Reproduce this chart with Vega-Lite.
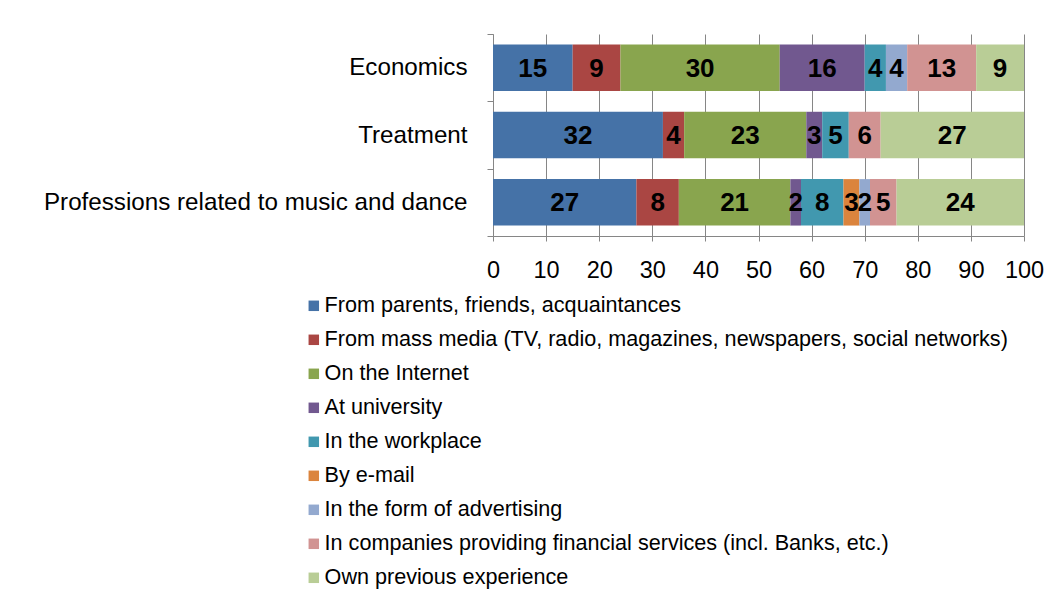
{
  "$schema": "https://vega.github.io/schema/vega-lite/v6.json",
  "width": 531,
  "height": 202,
  "autosize": {"type": "none"},
  "padding": {"left": 493, "top": 34, "right": 23, "bottom": 376},
  "background": "white",
  "config": {"font": "Liberation Sans", "view": {"stroke": null}},
  "data": {
    "values": [
      {"group": "Economics", "source": "From parents, friends, acquaintances", "rank": 1, "value": 15},
      {"group": "Economics", "source": "From mass media (TV, radio, magazines, newspapers, social networks)", "rank": 2, "value": 9},
      {"group": "Economics", "source": "On the Internet", "rank": 3, "value": 30},
      {"group": "Economics", "source": "At university", "rank": 4, "value": 16},
      {"group": "Economics", "source": "In the workplace", "rank": 5, "value": 4},
      {"group": "Economics", "source": "In the form of advertising", "rank": 7, "value": 4},
      {"group": "Economics", "source": "In companies providing financial services (incl. Banks, etc.)", "rank": 8, "value": 13},
      {"group": "Economics", "source": "Own previous experience", "rank": 9, "value": 9},
      {"group": "Treatment", "source": "From parents, friends, acquaintances", "rank": 1, "value": 32},
      {"group": "Treatment", "source": "From mass media (TV, radio, magazines, newspapers, social networks)", "rank": 2, "value": 4},
      {"group": "Treatment", "source": "On the Internet", "rank": 3, "value": 23},
      {"group": "Treatment", "source": "At university", "rank": 4, "value": 3},
      {"group": "Treatment", "source": "In the workplace", "rank": 5, "value": 5},
      {"group": "Treatment", "source": "In companies providing financial services (incl. Banks, etc.)", "rank": 8, "value": 6},
      {"group": "Treatment", "source": "Own previous experience", "rank": 9, "value": 27},
      {"group": "Professions related to music and dance", "source": "From parents, friends, acquaintances", "rank": 1, "value": 27},
      {"group": "Professions related to music and dance", "source": "From mass media (TV, radio, magazines, newspapers, social networks)", "rank": 2, "value": 8},
      {"group": "Professions related to music and dance", "source": "On the Internet", "rank": 3, "value": 21},
      {"group": "Professions related to music and dance", "source": "At university", "rank": 4, "value": 2},
      {"group": "Professions related to music and dance", "source": "In the workplace", "rank": 5, "value": 8},
      {"group": "Professions related to music and dance", "source": "By e-mail", "rank": 6, "value": 3},
      {"group": "Professions related to music and dance", "source": "In the form of advertising", "rank": 7, "value": 2},
      {"group": "Professions related to music and dance", "source": "In companies providing financial services (incl. Banks, etc.)", "rank": 8, "value": 5},
      {"group": "Professions related to music and dance", "source": "Own previous experience", "rank": 9, "value": 24}
    ]
  },
  "transform": [
    {"stack": "value", "groupby": ["group"], "sort": [{"field": "rank", "order": "ascending"}], "as": ["x0", "x1"]},
    {"calculate": "(datum.x0 + datum.x1) / 2", "as": "xm"}
  ],
  "encoding": {
    "y": {
      "field": "group",
      "type": "nominal",
      "sort": ["Economics", "Treatment", "Professions related to music and dance"],
      "scale": {"paddingInner": 0, "paddingOuter": 0},
      "axis": {
        "title": null,
        "tickBand": "extent",
        "domainColor": "#868686",
        "tickColor": "#868686",
        "tickSize": 6,
        "labelFontSize": 24.2,
        "labelColor": "#000000",
        "labelPadding": 20,
        "labelLimit": 600,
        "grid": false
      }
    }
  },
  "layer": [
    {
      "mark": {"type": "bar", "height": {"band": 0.69}},
      "encoding": {
        "x": {
          "field": "x0",
          "type": "quantitative",
          "scale": {"domain": [0, 100], "nice": false},
          "axis": {
            "title": null,
            "values": [0, 10, 20, 30, 40, 50, 60, 70, 80, 90, 100],
            "grid": true,
            "gridColor": "#868686",
            "domainColor": "#868686",
            "tickColor": "#868686",
            "tickSize": 5,
            "labelFontSize": 23.5,
            "labelColor": "#000000",
            "labelPadding": 17,
            "labelFlush": false
          }
        },
        "x2": {"field": "x1"},
        "color": {
          "field": "source",
          "type": "nominal",
          "scale": {
            "domain": [
              "From parents, friends, acquaintances",
              "From mass media (TV, radio, magazines, newspapers, social networks)",
              "On the Internet",
              "At university",
              "In the workplace",
              "By e-mail",
              "In the form of advertising",
              "In companies providing financial services (incl. Banks, etc.)",
              "Own previous experience"
            ],
            "range": ["#4572A7", "#AA4643", "#89A54E", "#71588F", "#4198AF", "#DB843D", "#93A9CF", "#D19392", "#B9CD96"]
          },
          "legend": {
            "title": null,
            "orient": "none",
            "legendX": -190,
            "legendY": 261,
            "direction": "vertical",
            "symbolType": "square",
            "symbolSize": 110,
            "symbolStrokeWidth": 0,
            "labelFontSize": 21.6,
            "labelColor": "#000000",
            "labelOffset": 0,
            "labelLimit": 800,
            "rowPadding": 11
          }
        }
      }
    },
    {
      "mark": {"type": "text", "fontWeight": "bold", "fontSize": 26, "color": "#000000", "dy": 1},
      "encoding": {
        "x": {"field": "xm", "type": "quantitative"},
        "text": {"field": "value", "type": "quantitative"}
      }
    }
  ]
}
